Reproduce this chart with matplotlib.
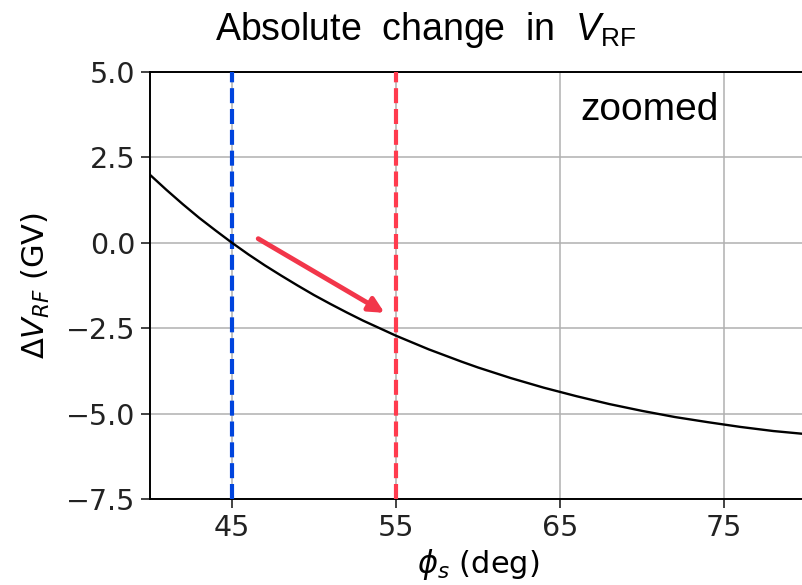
import matplotlib
matplotlib.use("Agg")
import matplotlib.pyplot as plt

# values
phi_s = [40, 41, 42, 43, 44, 45, 46, 47, 48, 49, 50, 51, 52, 53, 54, 55, 56, 57, 58, 59, 60,
         62, 64, 66, 68, 70, 72, 74, 76, 78, 80]
dV_rf = [1.99, 1.55, 1.13, 0.73, 0.36, 0.0, -0.34, -0.66, -0.96, -1.25, -1.53, -1.79, -2.04,
         -2.28, -2.50, -2.72, -2.92, -3.12, -3.30, -3.48, -3.65,
         -3.96, -4.24, -4.49, -4.72, -4.92, -5.10, -5.25, -5.39, -5.51, -5.60]

phi_old = 45
phi_new = 55
arrow_start = (46.6, 0.12)
arrow_end = (54.3, -2.05)

x_ticks = [45, 55, 65, 75]
y_ticks = [5.0, 2.5, 0.0, -2.5, -5.0, -7.5]

plt.rcParams["mathtext.fontset"] = "dejavusans"
plt.rcParams["mathtext.rm"] = "Liberation Sans"
plt.rcParams["mathtext.it"] = "Liberation Sans:italic"

fig = plt.figure(figsize=(8.02, 5.85), dpi=100)
ax = fig.add_axes([150 / 802, 1 - 499 / 585, 656 / 802, (499 - 72) / 585])

ax.grid(True, color="#b0b0b0", lw=1.1)
ax.axvline(phi_old, color="#0044dd", lw=3, ls=(0, (3.6, 1.4)), zorder=3)
ax.axvline(phi_new, color="#ff3b4e", lw=3, ls=(0, (3.6, 1.4)), zorder=3)
ax.plot(phi_s, dV_rf, color="black", lw=1.7, zorder=4)

ax.annotate("", xy=arrow_end, xytext=arrow_start,
            arrowprops=dict(arrowstyle="-|>,head_length=0.9,head_width=0.45",
                            color="#f2364a", lw=3.5, shrinkA=0, shrinkB=0),
            zorder=5)

ax.set_xlim(40, 80)
ax.set_ylim(-7.5, 5.0)
ax.set_xticks(x_ticks)
ax.set_yticks(y_ticks)
ax.tick_params(labelsize=20.5, length=6.5, width=1.2, pad=4, colors="#222222")
for s in ax.spines.values():
    s.set_linewidth(1.4)

ax.set_ylabel(r"$\Delta V_{RF}$ (GV)", fontsize=22, labelpad=10)
ax.set_xlabel(r"$\phi_s$ (deg)", fontsize=22, labelpad=4)

ax.text(0.762, 0.911, "zoomed", transform=ax.transAxes, ha="center", va="center",
        fontsize=28, family="Liberation Sans")

fig.text(426 / 802, 1 - 30 / 585, r"Absolute  change  in  $V_{\mathrm{RF}}$",
         ha="center", va="center", fontsize=27, family="Liberation Sans",
         math_fontfamily="custom")

fig.savefig("out.png", dpi=100)
